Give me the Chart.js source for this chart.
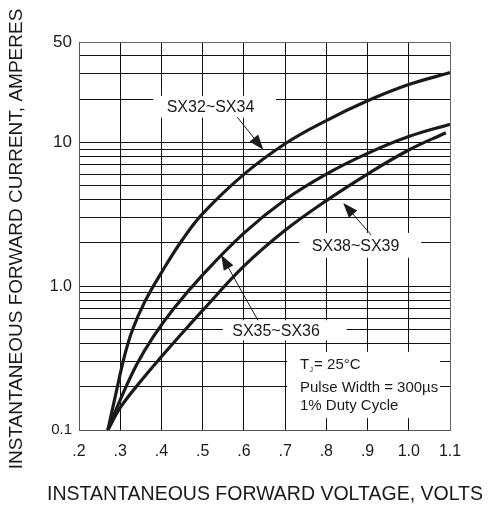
<!DOCTYPE html>
<html>
<head>
<meta charset="utf-8">
<script src="https://cdn.jsdelivr.net/npm/chart.js@4.4.0/dist/chart.umd.min.js"></script>
<style>
  html, body { margin: 0; padding: 0; background: #ffffff; }
</style>
</head>
<body>
<canvas id="graficoDiodo" width="499" height="507"></canvas>
<script>
// Curvas (tensão em V, corrente em A)
const vSX32 = [0.27, 0.29, 0.31, 0.33, 0.36, 0.40, 0.45, 0.50, 0.60, 0.70, 0.80, 0.90, 1.00, 1.10];
const iSX32 = [0.10, 0.182, 0.324, 0.50, 0.785, 1.245, 2.09, 3.20, 6.00, 9.80, 14.2, 19.5, 25.3, 30.6];

const vSX35 = [0.27, 0.30, 0.34, 0.38, 0.43, 0.50, 0.60, 0.70, 0.80, 0.90, 1.00, 1.10];
const iSX35 = [0.10, 0.162, 0.285, 0.444, 0.70, 1.20, 2.34, 4.00, 6.03, 8.40, 11.0, 13.4];

const vSX38 = [0.27, 0.30, 0.35, 0.40, 0.45, 0.50, 0.60, 0.70, 0.80, 0.90, 1.00, 1.09];
const iSX38 = [0.10, 0.143, 0.219, 0.324, 0.471, 0.679, 1.38, 2.45, 3.94, 6.03, 8.87, 11.7];

// Eixos
const xTicks = [0.2, 0.3, 0.4, 0.5, 0.6, 0.7, 0.8, 0.9, 1.0, 1.1];
const xTickLabels = ['.2', '.3', '.4', '.5', '.6', '.7', '.8', '.9', '1.0', '1.1'];
const yGrid = [0.1, 0.2, 0.3, 0.4, 0.5, 0.6, 0.7, 0.8, 0.9,
               1, 2, 3, 4, 5, 6, 7, 8, 9,
               10, 20, 30, 40, 50];
const yTickValues = [0.1, 1, 10, 50];
const yTickLabels = ['0.1', '1.0', '10', '50'];

const fonte = "'Liberation Sans', Arial, Helvetica, sans-serif";

function pares(xs, ys) {
  return xs.map((v, i) => ({ x: v, y: ys[i] }));
}

// Caixas brancas que escondem a grade atrás dos textos (coordenadas de dados)
const caixas = [
  { x0: 0.380, x1: 0.678, y0: 14.9, y1: 21.1 },
  { x0: 0.734, x1: 1.030, y0: 1.58, y1: 2.35 },
  { x0: 0.549, x1: 0.849, y0: 0.42, y1: 0.58 },
  { x0: 0.705, x1: 1.076, y0: 0.121, y1: 0.35 }
];

// Rótulos das curvas com setas
const rotulos = [
  { texto: 'SX32~SX34', x: 0.519, y: 17.5, de: [0.584, 15.0], para: [0.647, 8.9] },
  { texto: 'SX38~SX39', x: 0.871, y: 1.88, de: [0.909, 2.27], para: [0.841, 3.8] },
  { texto: 'SX35~SX36', x: 0.678, y: 0.48, de: [0.634, 0.58], para: [0.545, 1.65] }
];

function seta(ctx, xa, ya, xb, yb) {
  const ang = Math.atan2(yb - ya, xb - xa);
  const comp = 15, larg = 5.5;
  ctx.beginPath();
  ctx.moveTo(xa, ya);
  ctx.lineTo(xb - comp * 0.8 * Math.cos(ang), yb - comp * 0.8 * Math.sin(ang));
  ctx.stroke();
  ctx.beginPath();
  ctx.moveTo(xb, yb);
  ctx.lineTo(xb - comp * Math.cos(ang) + larg * Math.sin(ang), yb - comp * Math.sin(ang) - larg * Math.cos(ang));
  ctx.lineTo(xb - comp * Math.cos(ang) - larg * Math.sin(ang), yb - comp * Math.sin(ang) + larg * Math.cos(ang));
  ctx.closePath();
  ctx.fill();
}

const anotacoes = {
  id: 'anotacoes',
  beforeDatasetsDraw(chart) {
    const { ctx, scales: { x, y } } = chart;
    ctx.save();
    ctx.fillStyle = '#ffffff';
    caixas.forEach(c => {
      const x0 = x.getPixelForValue(c.x0), x1 = x.getPixelForValue(c.x1);
      const y0 = y.getPixelForValue(c.y0), y1 = y.getPixelForValue(c.y1);
      ctx.fillRect(x0, y1, x1 - x0, y0 - y1);
    });
    ctx.restore();
  },
  afterDatasetsDraw(chart) {
    const { ctx, scales: { x, y } } = chart;
    ctx.save();
    ctx.fillStyle = '#1a1a1a';
    ctx.strokeStyle = '#1a1a1a';
    ctx.lineWidth = 1;
    ctx.font = '16px ' + fonte;
    ctx.textAlign = 'center';
    ctx.textBaseline = 'middle';
    rotulos.forEach(r => {
      ctx.fillText(r.texto, x.getPixelForValue(r.x), y.getPixelForValue(r.y));
      seta(ctx, x.getPixelForValue(r.de[0]), y.getPixelForValue(r.de[1]),
                x.getPixelForValue(r.para[0]), y.getPixelForValue(r.para[1]));
    });

    // Condições de teste
    const xl = x.getPixelForValue(0.736);
    ctx.textAlign = 'left';
    ctx.font = '15px ' + fonte;
    let yl = y.getPixelForValue(0.284);
    ctx.fillText('T', xl, yl);
    let w = ctx.measureText('T').width;
    ctx.font = '7px ' + fonte;
    ctx.fillText('J', xl + w + 0.5, yl + 5);
    ctx.font = '15px ' + fonte;
    ctx.fillText('= 25°C', xl + w + 5, yl);
    ctx.fillText('Pulse Width = 300\u00b5s', xl, y.getPixelForValue(0.196));
    ctx.fillText('1% Duty Cycle', xl, y.getPixelForValue(0.147));
    ctx.restore();
  },
  afterDraw(chart) {
    const { ctx } = chart;
    ctx.save();
    ctx.fillStyle = '#1a1a1a';
    ctx.textAlign = 'center';
    ctx.textBaseline = 'middle';
    ctx.font = '19.5px ' + fonte;
    ctx.fillText('INSTANTANEOUS FORWARD VOLTAGE, VOLTS', 265, 495);
    ctx.font = '19px ' + fonte;
    ctx.translate(17, 239);
    ctx.rotate(-Math.PI / 2);
    ctx.fillText('INSTANTANEOUS FORWARD CURRENT, AMPERES', 0, 0);
    ctx.restore();
  }
};

const estiloCurva = {
  showLine: true,
  borderColor: '#1a1a1a',
  borderWidth: 3.2,
  pointRadius: 0,
  fill: false,
  tension: 0.4
};

function corGrade(ctx, borda) {
  return ctx.tick && borda.includes(ctx.tick.value) ? '#666666' : '#111111';
}

function fonteY(ctx) {
  const v = ctx.tick ? ctx.tick.value : 0;
  const size = v >= 10 ? 17 : (v >= 1 ? 16 : 15);
  return { family: fonte, size: size };
}

new Chart(document.getElementById('graficoDiodo'), {
  type: 'scatter',
  data: {
    datasets: [
      { ...estiloCurva, label: 'SX32~SX34', data: pares(vSX32, iSX32) },
      { ...estiloCurva, label: 'SX35~SX36', data: pares(vSX35, iSX35) },
      { ...estiloCurva, label: 'SX38~SX39', data: pares(vSX38, iSX38) }
    ]
  },
  options: {
    responsive: false,
    animation: false,
    events: [],
    layout: { padding: { top: 42, right: 49, left: 0, bottom: 0 } },
    plugins: {
      legend: { display: false },
      tooltip: { enabled: false }
    },
    scales: {
      x: {
        type: 'linear',
        min: 0.2,
        max: 1.1,
        afterBuildTicks: s => { s.ticks = xTicks.map(v => ({ value: v })); },
        afterFit: s => { s.height = 77; },
        ticks: {
          autoSkip: false,
          maxRotation: 0,
          padding: 12,
          color: '#1a1a1a',
          font: { family: fonte, size: 16 },
          callback: (v, i) => xTickLabels[i]
        },
        grid: {
          drawTicks: false,
          lineWidth: 1,
          color: ctx => corGrade(ctx, [0.2, 1.1])
        },
        border: { display: true, color: '#555555', width: 1 }
      },
      y: {
        type: 'logarithmic',
        min: 0.1,
        max: 50,
        afterBuildTicks: s => { s.ticks = yGrid.map(v => ({ value: v })); },
        afterFit: s => { s.width = 79; },
        ticks: {
          autoSkip: false,
          padding: 7,
          color: '#1a1a1a',
          font: fonteY,
          callback: v => {
            const i = yTickValues.findIndex(t => Math.abs(t - v) < 1e-9);
            return i >= 0 ? yTickLabels[i] : '';
          }
        },
        grid: {
          drawTicks: false,
          lineWidth: 1,
          color: ctx => corGrade(ctx, [0.1, 50])
        },
        border: { display: true, color: '#555555', width: 1 }
      }
    }
  },
  plugins: [anotacoes]
});
</script>
</body>
</html>
